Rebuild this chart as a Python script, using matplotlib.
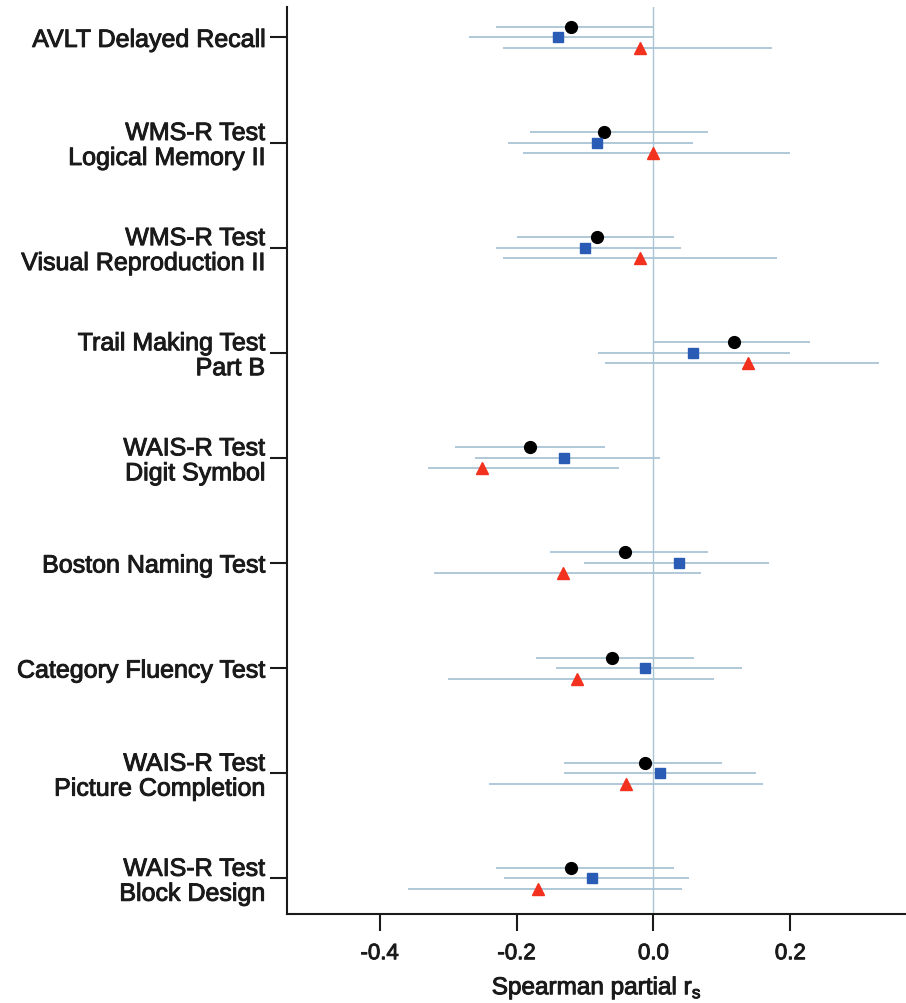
import numpy as np
import matplotlib
matplotlib.use("Agg")
import matplotlib.pyplot as plt
import matplotlib.patheffects as pe

plt.rcParams['font.family'] = ['Liberation Sans', 'DejaVu Sans']
plt.rcParams['axes.unicode_minus'] = False

tests = ["AVLT Delayed Recall",
         "WMS-R Test\nLogical Memory II",
         "WMS-R Test\nVisual Reproduction II",
         "Trail Making Test\nPart B",
         "WAIS-R Test\nDigit Symbol",
         "Boston Naming Test",
         "Category Fluency Test",
         "WAIS-R Test\nPicture Completion",
         "WAIS-R Test\nBlock Design"]

# black circles
circ_est = [-0.12, -0.072, -0.082, 0.118, -0.181, -0.041, -0.061, -0.012, -0.12]
circ_lo = [-0.23, -0.181, -0.20, 0.0, -0.29, -0.151, -0.171, -0.13, -0.23]
circ_hi = [0.0, 0.080, 0.03, 0.229, -0.07, 0.080, 0.059, 0.10, 0.03]

# blue squares
sq_est = [-0.139, -0.082, -0.10, 0.058, -0.131, 0.038, -0.012, 0.009, -0.09]
sq_lo = [-0.269, -0.212, -0.23, -0.081, -0.26, -0.101, -0.142, -0.13, -0.219]
sq_hi = [0.0, 0.058, 0.04, 0.199, 0.009, 0.169, 0.129, 0.15, 0.052]

# red triangles
tri_est = [-0.02, 0.0, -0.02, 0.138, -0.251, -0.132, -0.111, -0.04, -0.168]
tri_lo = [-0.22, -0.19, -0.22, -0.071, -0.33, -0.321, -0.30, -0.24, -0.359]
tri_hi = [0.173, 0.20, 0.18, 0.329, -0.051, 0.07, 0.089, 0.16, 0.042]

ci_col = '#a9c4d4'
txt_col = '#1a1a1a'
ypos = np.arange(len(tests), 0, -1)

fig = plt.figure(figsize=(9.06, 10.04), dpi=100)
ax = fig.add_axes([0.317, 0.0886, 0.683, 0.903])

ax.axvline(0, color=ci_col, lw=1.0, zorder=1)

series = [(circ_est, circ_lo, circ_hi, 0.1, 'o', 'black', 8.5),
          (sq_est, sq_lo, sq_hi, 0.0, 's', '#2a5cb6', 7),
          (tri_est, tri_lo, tri_hi, -0.1, '^', '#f2321e', 8.5)]
for est, lo, hi, off, mk, col, ms in series:
    yy = ypos + off
    ax.hlines(yy, lo, hi, color=ci_col, lw=1.3, zorder=2)
    ax.plot(est, yy, linestyle='none', marker=mk, color=col, ms=ms, zorder=3)

ax.set_xlim(-0.535, 0.369)
ax.set_ylim(0.66, 9.285)
ax.set_yticks(ypos)
ax.set_yticklabels(tests, fontsize=18, linespacing=1.05, color=txt_col)
ax.set_xticks([-0.4, -0.2, 0.0, 0.2])
ax.set_xticklabels(['-0.4', '-0.2', '0.0', '0.2'], fontsize=16, color=txt_col)
ax.set_xlabel(r'Spearman partial r$_\mathregular{s}$', fontsize=17.5,
              labelpad=8, color=txt_col)

# slightly heavier text, like the scanned figure
thick = [pe.withStroke(linewidth=0.7, foreground=txt_col)]
for t in ax.get_yticklabels() + ax.get_xticklabels() + [ax.xaxis.label]:
    t.set_path_effects(thick)

for s in ['top', 'right']:
    ax.spines[s].set_visible(False)
for s in ['left', 'bottom']:
    ax.spines[s].set_linewidth(1.5)
    ax.spines[s].set_color(txt_col)
ax.tick_params(axis='both', length=12, width=1.5, color=txt_col)
ax.tick_params(axis='y', pad=4)
ax.tick_params(axis='x', pad=9)

fig.savefig('out.png', dpi=100)
